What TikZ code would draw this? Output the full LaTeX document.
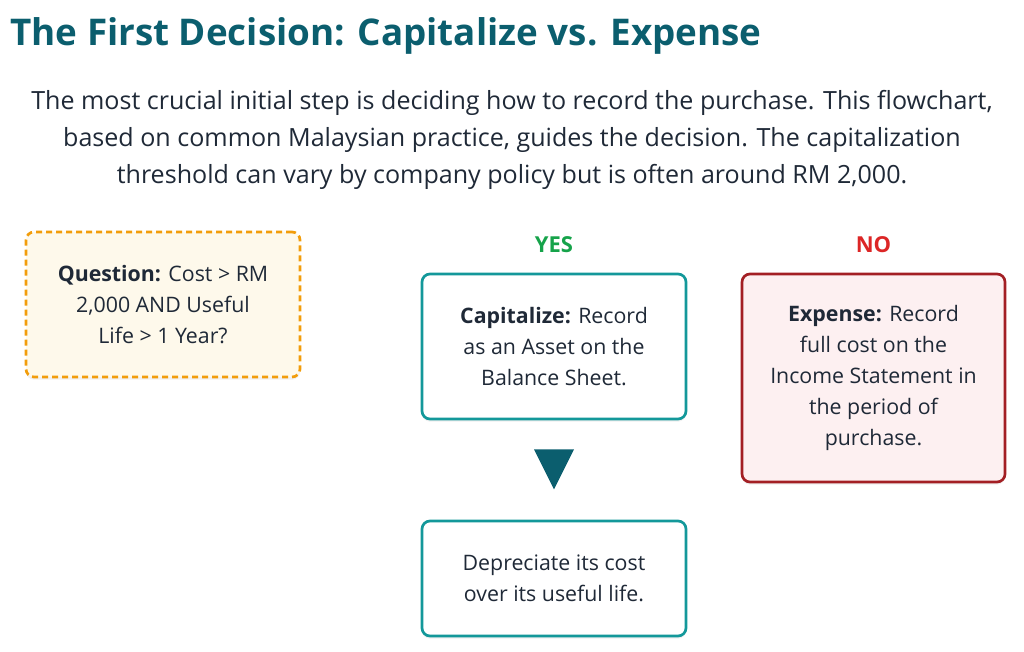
\documentclass[tikz,border=0pt]{standalone}
\usepackage{fontspec}
\setmainfont{Open Sans}
\usepackage{xcolor}
\usetikzlibrary{shadows}

\definecolor{titleteal}{HTML}{0B5E6E}
\definecolor{bodytext}{HTML}{1F2937}
\definecolor{qborder}{HTML}{F29D0B}
\definecolor{qfill}{HTML}{FEF9EB}
\definecolor{capborder}{HTML}{13989A}
\definecolor{expborder}{HTML}{A31F24}
\definecolor{expfill}{HTML}{FDF0F1}
\definecolor{yesgreen}{HTML}{16A34A}
\definecolor{nored}{HTML}{DC2626}

\begin{document}
\begin{tikzpicture}[x=0.75pt, y=-0.75pt,
		box/.style={draw, rounded corners=6pt, line width=2pt, text=bodytext, align=center, inner sep=0pt,
			font=\fontsize{16}{23.25}\selectfont,
			drop shadow={opacity=0.12, shadow xshift=0pt, shadow yshift=-2pt}},
		answer/.style={font=\bfseries\fontsize{16.5}{18}\selectfont}]
	\useasboundingbox (0,0) rectangle (1024,652);
	% heading and intro
	\node[anchor=base west, inner sep=0pt, text=titleteal, font=\bfseries\fontsize{27.6}{30}\selectfont] (title) at (10,46) {The First Decision: Capitalize vs. Expense};
	\node[align=center, text=bodytext, font=\fontsize{18.8}{27.5}\selectfont] (intro) at (512,140) {The most crucial initial step is deciding how to record the purchase. This flowchart,\\ based on common Malaysian practice, guides the decision. The capitalization\\ threshold can vary by company policy but is often around RM 2,000.};
	% decision boxes
	\node[box, dash pattern=on 4.5pt off 3pt, draw=qborder, fill=qfill, minimum width=205.5pt, minimum height=108.75pt] (question) at (163,304.5) {\textbf{Question:} Cost > RM\\ 2,000 AND Useful\\ Life > 1 Year?};
	\node[box, draw=capborder, fill=white, minimum width=198pt, minimum height=108.75pt] (cap) at (554,346.5) {\textbf{Capitalize:} Record\\ as an Asset on the\\ Balance Sheet.};
	\node[box, draw=capborder, fill=white, minimum width=198pt, minimum height=86.25pt] (dep) at (554,578.5) {Depreciate its cost\\ over its useful life.};
	\node[box, draw=expborder, fill=expfill, minimum width=197.25pt, minimum height=156pt] (exp) at (873.5,378) {\textbf{Expense:} Record\\ full cost on the\\ Income Statement in\\ the period of\\ purchase.};
	\node[answer, text=yesgreen] (yes) at (554,245) {YES};
	\node[answer, text=nored] (no) at (873.5,245) {NO};
	% down marker
	\fill[titleteal] (cap.south) ++(-20,29) -- ++(40,0) -- ++(-20,40) -- cycle;
\end{tikzpicture}
\end{document}
